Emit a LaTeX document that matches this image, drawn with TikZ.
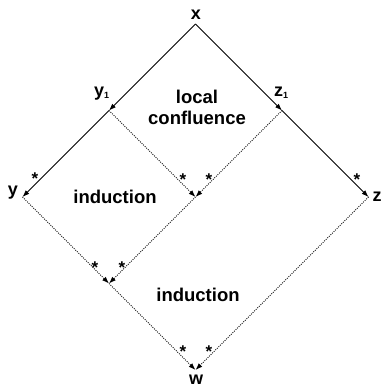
\documentclass[tikz,border=0pt]{standalone}
\usepackage{fontspec}
\setmainfont{Liberation Sans}
\usetikzlibrary{arrows.meta}
\tikzset{
  lbl/.style={font=\bfseries\fontsize{18}{20}\selectfont, inner sep=0pt},
  txt/.style={font=\bfseries\fontsize{18.5}{21}\selectfont, inner sep=0pt, align=center},
  starnode/.style={font=\bfseries\fontsize{17}{20}\selectfont, inner sep=0pt, anchor=base, yshift=-10pt},
  solidarr/.style={line width=0.75pt, -{Latex[length=7pt,width=5pt]}},
  dotarr/.style={line width=0.95pt, dash pattern=on 0.9pt off 1.3pt, -{Latex[length=7pt,width=5pt]}},
}
\begin{document}
\begin{tikzpicture}[x=1pt,y=-1pt]
\useasboundingbox (0,0) rectangle (382,388);
% points
\coordinate (X) at (195.5,24);
\coordinate (Y1) at (109,110.5);
\coordinate (Z1) at (282,110.5);
\coordinate (Y) at (22.5,197);
\coordinate (M) at (195.5,197);
\coordinate (Z) at (368.5,197);
\coordinate (B) at (109,283.5);
\coordinate (W) at (195.5,370);
% labels
\node[lbl] (lx) at (196,15) {x};
\node[lbl, anchor=base west] (ly1) at (94,96) {y\raisebox{-2pt}{\fontsize{9}{9}\selectfont 1}};
\node[lbl, anchor=base west] (lz1) at (274,96) {z\raisebox{-2pt}{\fontsize{9}{9}\selectfont 1}};
\node[lbl] (ly) at (13,193) {y};
\node[lbl] (lz) at (377,197) {z};
\node[lbl, anchor=base] (lw) at (196,384.5) {w};
\node[txt] (tlc) at (197,107) {local\\confluence};
\node[txt] (ti1) at (115,197) {induction};
\node[txt] (ti2) at (198,295) {induction};
% connectors
\draw[solidarr] (X) -- (Y1);
\draw[solidarr] (X) -- (Z1);
\draw[solidarr] (Y1) -- (Y);
\draw[solidarr] (Z1) -- (Z);
\draw[dotarr] (Y1) -- (M);
\draw[dotarr] (Z1) -- (M);
\draw[dotarr] (Y) -- (B);
\draw[dotarr] (M) -- (B);
\draw[dotarr] (B) -- (W);
\draw[dotarr] (Z) -- (W);
% stars
\node[starnode] (s1) at (35,174) {*};
\node[starnode] (s2) at (357,175) {*};
\node[starnode] (s3) at (183,175) {*};
\node[starnode] (s4) at (209,175) {*};
\node[starnode] (s5) at (95,263) {*};
\node[starnode] (s6) at (122,263) {*};
\node[starnode] (s7) at (183,347) {*};
\node[starnode] (s8) at (209,347) {*};
\end{tikzpicture}
\end{document}
